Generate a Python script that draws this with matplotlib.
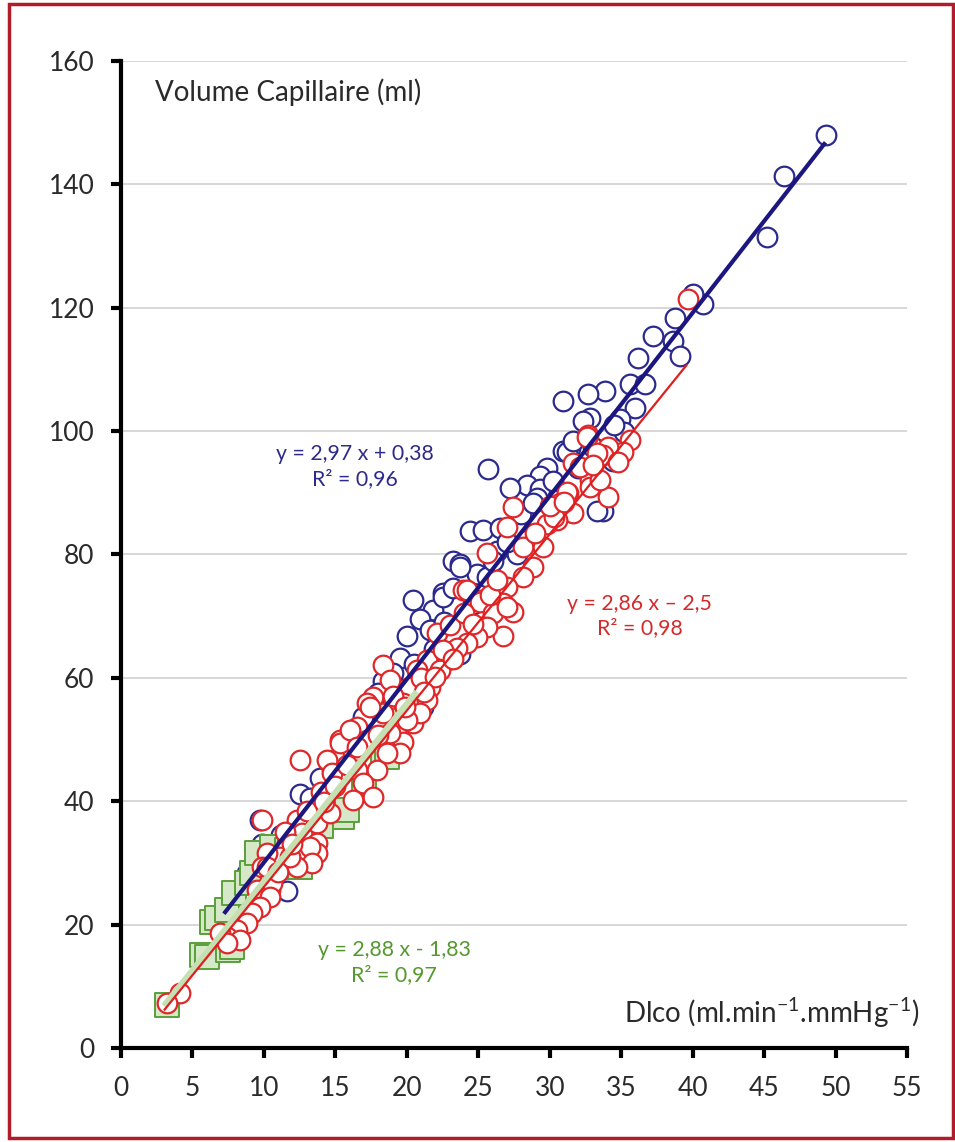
import matplotlib
matplotlib.use("Agg")
import matplotlib.pyplot as plt
from matplotlib.patches import Rectangle
import numpy as np

plt.rcParams['font.family'] = ['Lato', 'DejaVu Sans']
plt.rcParams['axes.unicode_minus'] = False

# ---------------- data ----------------
blue_x = [49.3, 46.4, 45.2, 40.7, 40.0, 38.8, 37.2, 38.6, 39.1, 36.2, 35.6, 36.7, 33.9, 32.7,
          30.9, 36.0, 34.9, 32.8, 32.3, 31.4, 30.9, 34.4, 29.8, 29.3, 28.4, 30.0, 33.7, 25.7,
          27.2, 29.3, 29.1, 31.2, 31.6, 24.4, 25.3, 26.5, 23.2, 23.7, 24.9, 25.6, 22.5, 20.4,
          21.8, 22.5, 23.2, 23.7, 20.9, 20.0, 21.6, 23.7, 19.5, 18.3, 17.6, 16.9, 21.1, 12.5,
          13.9, 9.7, 9.9, 9.0, 11.6, 8.8, 14.8, 15.7, 16.5, 26.3, 27.7, 33.3,
          19.0, 20.5, 21.9, 22.6, 24.6, 26.0, 27.0, 28.0, 28.8, 30.2, 32.0, 33.0, 35.2, 34.5,
          15.2, 13.2, 11.2, 10.5, 18.0, 17.0, 19.8]
blue_y = [148.0, 141.3, 131.4, 120.6, 122.2, 118.3, 115.4, 114.6, 112.2, 111.8, 107.6, 107.6, 106.5, 106.0,
          104.9, 103.7, 102.0, 102.2, 101.6, 97.3, 96.8, 95.2, 94.1, 92.8, 91.2, 90.8, 87.0, 93.8,
          90.7, 90.6, 89.2, 96.6, 98.4, 83.8, 83.9, 84.3, 79.0, 78.5, 76.9, 76.3, 73.7, 72.6,
          71.0, 73.1, 74.6, 77.9, 69.6, 66.8, 67.7, 63.9, 63.3, 59.5, 55.8, 53.6, 55.2, 41.2,
          43.8, 36.9, 33.1, 28.8, 25.5, 28.3, 45.3, 49.0, 51.4, 80.6, 80.1, 87.1,
          60.8, 62.2, 64.7, 69.0, 72.0, 78.9, 82.0, 86.5, 88.4, 91.9, 94.0, 97.5, 99.8, 101.0,
          47.0, 40.5, 34.5, 31.5, 57.5, 49.5, 58.2]

red_x = [39.7, 35.6, 35.1, 34.1, 33.7, 32.7, 31.6, 32.8, 31.3, 34.1, 32.6, 33.3, 32.1, 32.8,
         31.2, 30.7, 31.6, 30.5, 27.4, 27.0, 25.6, 28.4, 28.1, 29.5, 28.8, 28.1, 23.9, 25.1,
         27.0, 26.7, 27.4, 26.7, 24.2, 25.1, 26.0, 27.0, 25.6, 24.9, 24.2, 23.5, 22.1, 22.8,
         21.4, 20.7, 22.3, 18.3, 18.8, 20.2, 21.6, 21.4, 19.7, 17.6, 17.2, 18.3, 19.3, 20.4,
         20.9, 16.5, 15.3, 17.2, 18.6, 19.7, 16.2, 19.5, 12.5, 14.4, 15.3, 16.0, 16.5, 14.8,
         16.5, 17.9, 16.9, 17.6, 16.2, 18.6, 20.0, 18.8, 17.4, 9.9, 12.3, 12.7, 13.7, 14.6,
         13.7, 13.7, 12.5, 11.6, 11.1, 10.2, 9.9, 12.0, 10.4, 10.4, 9.5, 10.2, 10.6, 10.4,
         9.7, 9.2, 8.8, 8.1, 7.4, 6.9, 8.3, 7.4, 4.1, 3.2, 13.2, 13.4, 12.3, 11.8,
         29.8, 30.3, 33.5, 34.8, 23.0, 24.0, 21.0, 22.5, 19.0, 14.0, 15.0, 13.0, 11.5,
         22.0, 23.2, 24.6, 25.8, 26.3, 21.2, 19.9, 18.0, 15.8, 14.2, 29.0, 30.0, 31.0, 33.0,
         12.0, 11.0]
red_y = [121.4, 98.6, 96.6, 97.4, 96.1, 99.4, 94.8, 92.1, 90.0, 89.3, 99.0, 96.4, 94.2, 90.9,
         90.1, 88.3, 86.7, 85.6, 87.7, 84.5, 80.2, 82.3, 81.2, 81.2, 78.0, 76.4, 74.2, 72.6,
         74.7, 72.1, 70.7, 66.8, 74.2, 72.3, 70.5, 71.5, 68.2, 66.6, 65.6, 64.8, 67.3, 62.9,
         62.9, 61.3, 61.3, 62.1, 59.7, 58.5, 58.5, 56.4, 55.9, 56.9, 55.9, 54.3, 52.0, 52.7,
         54.3, 52.0, 49.9, 49.9, 49.9, 49.6, 47.8, 47.8, 46.7, 46.7, 49.4, 51.5, 48.8, 44.6,
         45.1, 45.1, 43.0, 40.7, 40.2, 47.8, 53.2, 51.1, 55.3, 37.0, 37.0, 34.9, 36.5, 38.1,
         33.2, 31.6, 31.6, 33.2, 31.0, 31.6, 29.3, 30.0, 27.2, 25.6, 25.6, 29.3, 26.7, 24.5,
         22.9, 21.9, 20.2, 19.1, 18.0, 18.6, 17.5, 17.0, 8.9, 7.3, 32.6, 30.0, 29.3, 31.0,
         85.0, 86.0, 92.0, 95.0, 68.5, 70.5, 60.0, 64.5, 57.0, 41.5, 42.5, 38.5, 35.0,
         60.2, 63.0, 68.8, 73.5, 75.8, 57.7, 55.2, 50.8, 45.8, 39.8, 83.5, 87.8, 88.5, 94.5,
         33.0, 28.5]

green_x = [3.2, 5.7, 6.0, 6.4, 6.7, 7.4, 7.5, 7.8, 7.9, 8.8, 9.2, 9.5, 10.6, 10.6, 11.6,
           12.0, 12.5, 15.5, 15.8, 18.3, 18.6, 20.5, 19.5, 14.0, 17.0]
green_y = [7.0, 15.1, 14.8, 20.4, 21.1, 22.4, 15.9, 16.4, 25.1, 26.7, 28.4, 31.6, 31.0, 32.6, 32.1,
           29.3, 29.3, 37.4, 38.6, 47.2, 47.2, 57.0, 53.0, 36.0, 43.0]

# trend lines: (slope, intercept, x start, x end)
blue_fit = (2.97, 0.38, 7.2, 49.3)
red_fit = (2.86, -2.5, 3.0, 39.6)
green_fit = (2.88, -1.83, 3.0, 20.7)

x_ticks = [0, 5, 10, 15, 20, 25, 30, 35, 40, 45, 50, 55]
y_ticks = [0, 20, 40, 60, 80, 100, 120, 140, 160]

# ---------------- figure ----------------
fig = plt.figure(figsize=(9.55, 11.42), dpi=100)
ax = fig.add_axes([0.1267, 0.0823, 0.8230, 0.8643])

BLUE_E = '#2c2a8c'
RED_E = '#e0282a'
GREEN_E = '#5aa03a'
GREEN_F = '#d5e8c8'

ax.scatter(blue_x, blue_y, s=200, facecolor='white', edgecolor=BLUE_E, linewidths=1.6, zorder=3)
ax.scatter(green_x, green_y, s=280, marker='s', facecolor=GREEN_F, edgecolor=GREEN_E, linewidths=1.4, zorder=4)
ax.scatter(red_x, red_y, s=200, facecolor='white', edgecolor=RED_E, linewidths=1.6, zorder=5)

def fitline(fit, color, lw, z):
    a, b, x0, x1 = fit
    xs = np.array([x0, x1])
    ax.plot(xs, a * xs + b, color=color, lw=lw, zorder=z, solid_capstyle='butt')

fitline(green_fit, '#c6e0b4', 4.5, 6)
fitline(red_fit, '#e01e1e', 1.6, 7)
fitline(blue_fit, '#1c1680', 3.0, 8)

ax.set_xlim(0, 55)
ax.set_ylim(0, 160)
ax.set_xticks(x_ticks)
ax.set_yticks(y_ticks)
ax.tick_params(axis='both', direction='out', length=7, width=3, color='black',
               labelsize=19, labelcolor='#2a2a2a')
ax.tick_params(axis='y', pad=12)
ax.tick_params(axis='x', pad=13)

for s in ['top', 'right']:
    ax.spines[s].set_visible(False)
for s in ['left', 'bottom']:
    ax.spines[s].set_linewidth(3)
    ax.spines[s].set_color('black')

ax.set_axisbelow(True)
for yv in y_ticks[1:]:
    ax.axhline(yv, color='#d4d4d4', lw=1.3, zorder=0)

ax.text(0.043, 0.9686, 'Volume Capillaire (ml)', transform=ax.transAxes, fontsize=20,
        color='#2a2a2a', ha='left', va='center')
ax.text(1.016, 0.018, r'Dlco (ml.min$^{\mathregular{-1}}$.mmHg$^{\mathregular{-1}}$)',
        transform=ax.transAxes, fontsize=20, color='#2a2a2a', ha='right', va='bottom')

ax.text(16.4, 94.3, 'y = 2,97 x + 0,38\nR² = 0,96', fontsize=15.3, color='#2e2a8a',
        ha='center', va='center', linespacing=1.3)
ax.text(36.3, 70.0, 'y = 2,86 x – 2,5\nR² = 0,98', fontsize=15.3, color='#d42a2a',
        ha='center', va='center', linespacing=1.3)
ax.text(19.1, 13.9, 'y = 2,88 x - 1,83\nR² = 0,97', fontsize=15.3, color='#55982e',
        ha='center', va='center', linespacing=1.3)

# red frame around figure
fig.patches.append(Rectangle((9 / 955, 4 / 1142), 944 / 955, 1134 / 1142, transform=fig.transFigure,
                             fill=False, edgecolor='#b01c2c', lw=2.5))

fig.savefig('out.png', dpi=100)
